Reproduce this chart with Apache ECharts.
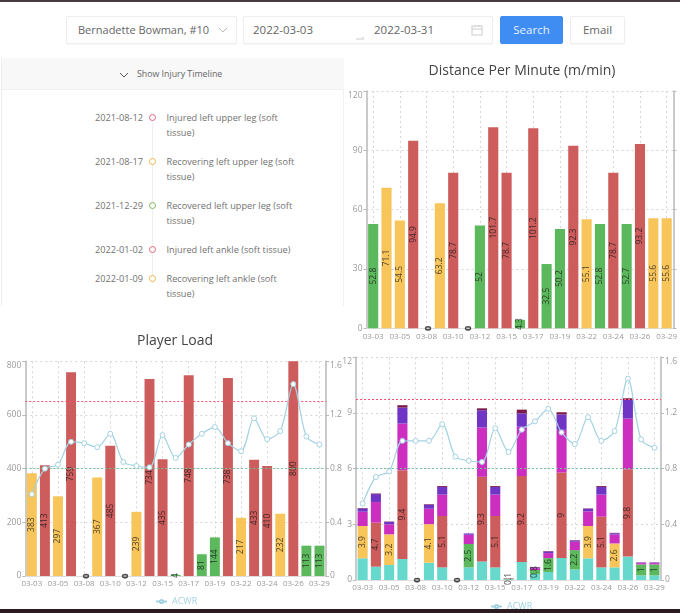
<!DOCTYPE html>
<html><head><meta charset="utf-8">
<script src="https://cdn.jsdelivr.net/npm/echarts@6/dist/echarts.min.js"></script>
<style>
html,body{margin:0;padding:0;background:#fff;width:680px;height:613px;overflow:hidden;font-family:"Open Sans",sans-serif;color:#666}
.a{position:absolute;box-sizing:border-box}
.box{background:#fff;border:1px solid #eee;border-radius:2px;box-shadow:0 1px 2px rgba(0,0,0,.04);font-size:11.5px;color:#666;line-height:26px}
.row{position:absolute;font-size:9.2px;line-height:15px;color:#727272;white-space:nowrap}
.dot{position:absolute;width:7px;height:7px;border-radius:50%;border:1.2px solid;box-sizing:border-box;left:149px;background:#fff}
#chart{position:absolute;left:0;top:0;width:680px;height:613px}
</style></head><body>
<div class="a" style="left:0;top:0;width:680px;height:1.5px;background:#4a3a42"></div>
<div class="a box" style="left:66px;top:16px;width:171px;height:28px;padding-left:11px;font-size:11px">Bernadette Bowman, #10</div>
<svg class="a" style="left:218px;top:27px" width="10" height="7"><path d="M1 1 L5 5 L9 1" fill="none" stroke="#bbb" stroke-width="1"/></svg>
<div class="a box" style="left:243px;top:16px;width:250px;height:28px"></div>
<div class="a" style="left:253px;top:16px;line-height:28px;font-size:11.5px">2022-03-03</div>
<div class="a" style="left:374px;top:16px;line-height:28px;font-size:11.5px">2022-03-31</div>
<svg class="a" style="left:355px;top:35px" width="12" height="6"><path d="M1 4 H9 L7 2" fill="none" stroke="#ccc" stroke-width="1"/></svg>
<svg class="a" style="left:471px;top:24px" width="12" height="12"><rect x="1" y="2" width="10" height="9" fill="none" stroke="#ccc"/><path d="M1 5H11M4 1V3M8 1V3" stroke="#ccc"/></svg>
<div class="a box" style="left:500px;top:16px;width:63px;height:28px;background:#3f8cf3;border-color:#3f8cf3;color:#e8f1fe;text-align:center">Search</div>
<div class="a box" style="left:570px;top:16px;width:55px;height:28px;text-align:center">Email</div>

<div class="a" style="left:1px;top:58px;width:343px;height:248px;border-left:1px solid #eee;border-right:1px solid #f2f2f2"></div>
<div class="a" style="left:2px;top:58px;width:342px;height:32px;background:#f8f8f8;border-bottom:1px solid #f0f0f0"></div>
<svg class="a" style="left:119px;top:72px" width="10" height="7"><path d="M1 1 L5 5 L9 1" fill="none" stroke="#555" stroke-width="1"/></svg>
<div class="a" style="left:137px;top:58px;line-height:32px;font-size:8.8px;color:#666">Show Injury Timeline</div>
<div class="a" style="left:152px;top:118px;width:1px;height:165px;background:#eee"></div>
<div id="tl"></div>
<div id="chart"></div>
<div class="a" style="left:0;top:609px;width:680px;height:4px;background:#2b1a20"></div>
<script>
// ----- data -----
const categories = ['03-03','03-04','03-05','03-07','03-08','03-09','03-10','03-11','03-12','03-14','03-15','03-16','03-17','03-18','03-19','03-21','03-22','03-23','03-24','03-25','03-26','03-28','03-29'];
const distance = [52.8,71.1,54.5,94.9,0,63.2,78.7,0,52,101.7,78.7,4.3,101.2,32.5,50.2,92.3,55.1,52.8,78.7,52.7,93.2,55.6,55.6];
const distanceStatus = 'g y y r g y r g g r r g r g g r y g r g r y y'.split(' ');
const load = [383,413,297,759,0,367,485,0,239,734,435,4,748,81,144,738,217,433,410,232,800,113,113];
const loadStatus = 'y r y r g y r g y r r g r g g r y r r y r g g'.split(' ');
const acwrLoad = [.61,.8,.83,1.0,.99,.96,1.06,.85,.82,.81,1.05,.88,.98,1.06,1.11,.99,.93,1.175,1.02,1.08,1.43,1.04,.98];
const acwrStack = [.55,.74,.78,1.0,1.0,1.0,1.12,.886,.857,.848,1.09,.92,1.08,1.14,1.23,1.06,.977,1.17,1.0,1.07,1.447,1.01,.95];
const stackTotals = [3.9,4.7,3.2,9.4,0,4.1,5.1,0,2.5,9.3,5.1,0.1,9.2,0.8,1.6,9,2.2,3.9,5.1,2.6,9.8,1,1];
const stackStatus = 'y r y r g y r g g r r g r g g r g y r y r g g'.split(' ');
const teal =    [1.17,.72,.81,1.13,0,.93,.68,0,.68,1.0,.68,.03,.97,.32,.43,1.19,.57,1.17,.68,.68,1.26,.25,.25];
const mid =     [1.74,2.37,1.65,4.79,0,2.08,2.77,0,1.26,4.56,2.77,.05,4.63,.22,.75,4.6,1.04,1.74,2.73,1.29,4.71,.59,.59];
const magenta = [.77,1.11,.54,2.51,0,.83,1.15,0,.5,2.66,1.15,.02,2.66,.1,.27,2.3,.45,.79,1.19,.48,2.73,.07,.07];
const purple =  [.18,.43,.13,.86,0,.22,.41,0,.07,.93,.41,0,.72,.04,.09,.83,.07,.14,.41,.07,1.0,.03,.03];
const maroon =  [.02,.03,.02,.13,0,.03,.05,0,0,.1,.05,0,.2,.02,.02,.12,.02,.02,.05,.02,.09,.01,.01];
const timeline = [
  ['2021-08-12','Injured left upper leg (soft<br>tissue)','#e2687a',117.7],
  ['2021-08-17','Recovering left upper leg (soft<br>tissue)','#f0b64a',161],
  ['2021-12-29','Recovered left upper leg (soft<br>tissue)','#7ab55c',205.7],
  ['2022-01-02','Injured left ankle (soft tissue)','#e2687a',249.7],
  ['2022-01-09','Recovering left ankle (soft<br>tissue)','#f0b64a',278.3]
];
// ----- timeline -----
document.getElementById('tl').innerHTML = timeline.map(t =>
  `<div class="row" style="left:60px;width:83px;text-align:right;top:${t[3]-7.5}px">${t[0]}</div>`+
  `<div class="dot" style="top:${t[3]-3.5}px;border-color:${t[2]}"></div>`+
  `<div class="row" style="left:166.5px;top:${t[3]-7.5}px">${t[1]}</div>`).join('');
// ----- chart -----
const FONT = '"Open Sans",sans-serif';
const palette = {g:'#5cb85c',y:'#f7c55a',r:'#cd5c5c'};
const zeroLabel = {color:'#444',fontWeight:'bold',textBorderColor:'#888',textBorderWidth:.5,offset:[0,2]};
const coloured = (vals, st) => vals.map((v,i) => {
  const item = {value:v,itemStyle:{color:palette[st[i]]}};
  if (v === 0) item.label = zeroLabel;
  return item;
});
const grey = '#b9b9b9', labelGrey = '#9a9a9a';
const split = {show:true,lineStyle:{type:[2,3],color:'#d6d6d6',width:1}};
const xAxis = g => ({type:'category',gridIndex:g,data:categories,
  axisLine:{lineStyle:{color:'#ddd'}},
  axisTick:{alignWithLabel:true,interval:1,lineStyle:{color:'#ccc'}},
  axisLabel:{interval:1,fontSize:8,color:labelGrey,fontFamily:FONT,margin:4,hideOverlap:false,showMaxLabel:true},
  splitLine:{...split,interval:1,alignWithLabel:true}});
const yAxis = (g,max,iv,pos,showSplit,showLabel=true) => ({type:'value',gridIndex:g,min:0,max,interval:iv,position:pos,
  axisLine:{show:true,lineStyle:{color:grey,width:1.5}},
  axisTick:{show:true,length:3,lineStyle:{color:grey}},
  axisLabel:{show:showLabel,fontSize:8.5,color:labelGrey,fontFamily:FONT,margin:4,verticalAlignMaxLabel:'top'},
  splitLine:showSplit?split:{show:false}});
const barLabel = (fmt) => ({show:true,position:'inside',rotate:90,fontSize:8.5,fontFamily:FONT,color:'rgba(20,20,20,.78)',formatter:fmt||'{c}'});
const bar = (name,x,y,data,extra) => ({name,type:'bar',xAxisIndex:x,yAxisIndex:y,data,barWidth:'76%',animation:false,...extra});
const limit = (x,y,value,color,width) => ({name:'limit'+x+value,type:'line',xAxisIndex:x,yAxisIndex:y,data:[],z:4,animation:false,symbol:'none',
  markLine:{silent:true,symbol:'none',animation:false,label:{show:false},
    lineStyle:{color,type:[2,2],width},data:[{yAxis:value}]}});
const acwr = (x,y,data) => ({name:'ACWR',type:'line',xAxisIndex:x,yAxisIndex:y,data,smooth:.3,symbol:'circle',symbolSize:5,showSymbol:true,
  z:5,animation:false,lineStyle:{color:'#a3d2e2',width:1.2},itemStyle:{color:'#fff',borderColor:'#a3d2e2',borderWidth:1}});
const stackPart = (name,data,color) => bar(name,2,3,data,{stack:'s',itemStyle:{color}});
const legend = (left,top) => ({data:['ACWR'],left,top,itemWidth:11,itemHeight:4,itemGap:3,selectedMode:false,padding:0,
  textStyle:{fontSize:9,color:'#a3d2e2',fontFamily:FONT}});
const titleStyle = {fontSize:14,fontWeight:'normal',color:'#444',fontFamily:FONT};
echarts.init(document.getElementById('chart')).setOption({
  animation:false,
  title:[
    {text:'Distance Per Minute (m/min)',left:522,top:64,textAlign:'center',padding:0,textStyle:titleStyle},
    {text:'Player Load',left:175,top:334,textAlign:'center',padding:0,textStyle:titleStyle}],
  legend:[legend(155,597),legend(490,602)],
  grid:[
    {left:366.5,top:91,width:311.5,height:237.3},
    {left:25.3,top:361.3,width:300.7,height:214.7},
    {left:356,top:357.3,width:310.7,height:222.7}],
  xAxis:[xAxis(0),xAxis(1),xAxis(2)],
  yAxis:[yAxis(0,120,30,'left',true),yAxis(1,800,200,'left',true),yAxis(1,1.6,.4,'right',false),
         yAxis(2,12,3,'left',true),yAxis(2,1.6,.4,'right',false),yAxis(0,120,30,'right',false,false)],
  series:[
    bar('Distance',0,0,coloured(distance,distanceStatus),{label:barLabel()}),
    bar('Load',1,1,coloured(load,loadStatus),{label:barLabel()}),
    limit(1,2,1.3,'#ff4d6d',1.2),limit(1,2,.8,'#74c29a',1),
    acwr(1,2,acwrLoad),
    stackPart('Teal',teal,'#66d9cc'),
    bar('Mid',2,3,coloured(mid,stackStatus),{stack:'s',label:barLabel(p=>stackTotals[p.dataIndex])}),
    stackPart('Magenta',magenta,'#cc2fc0'),
    stackPart('Purple',purple,'#6f35c4'),
    stackPart('Maroon',maroon,'#7a1a4a'),
    limit(2,4,1.3,'#ff4d6d',1.2),limit(2,4,.8,'#74c29a',1),
    acwr(2,4,acwrStack)
  ]
});
</script>
</body></html>
